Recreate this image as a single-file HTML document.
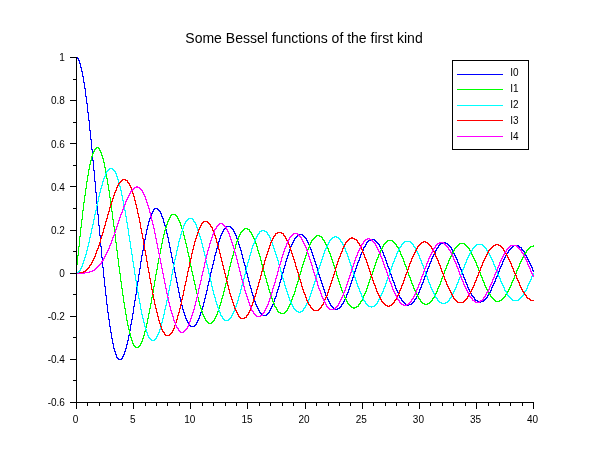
<!DOCTYPE html>
<html><head><meta charset="utf-8"><title>Some Bessel functions of the first kind</title>
<style>
html,body{margin:0;padding:0;background:#fff;}
body{width:610px;height:460px;overflow:hidden;}
svg{display:block;}
svg text{font-family:"Liberation Sans",Arial,sans-serif;fill:#000;}
.t{font-size:10px;}
.ttl{font-size:14px;font-variant-ligatures:none;}
.ax{stroke:#000;stroke-width:1;fill:none;shape-rendering:crispEdges;}
.c{fill:none;stroke-width:1;stroke-linejoin:round;shape-rendering:crispEdges;}
</style></head>
<body>
<svg width="610" height="460" viewBox="0 0 610 460">
<rect x="0" y="0" width="610" height="460" fill="#ffffff"/>
<path class="c" stroke="#0000ff" d="M76.5 57v1M77.5 57v2M78.5 58v3M79.5 60v4M80.5 63v5M81.5 67v5M82.5 71v6M83.5 76v7M84.5 82v7M85.5 88v9M86.5 96v8M87.5 103v10M88.5 112v9M89.5 120v11M90.5 130v10M91.5 139v11M92.5 149v12M93.5 160v11M94.5 170v12M95.5 181v12M96.5 192v12M97.5 203v12M98.5 214v12M99.5 225v11M100.5 235v12M101.5 246v12M102.5 257v11M103.5 267v11M104.5 277v10M105.5 286v10M106.5 295v10M107.5 304v9M108.5 312v8M109.5 319v8M110.5 326v7M111.5 332v7M112.5 338v6M113.5 343v6M114.5 348v4M115.5 351v4M116.5 354v4M117.5 357v2M118.5 358v2M119.5 359v1M120.5 359v1M121.5 358v2M122.5 356v3M123.5 354v3M124.5 351v4M125.5 348v4M126.5 344v5M127.5 340v5M128.5 335v6M129.5 330v6M130.5 324v7M131.5 319v6M132.5 313v7M133.5 306v8M134.5 300v7M135.5 294v7M136.5 287v8M137.5 281v7M138.5 274v8M139.5 268v7M140.5 261v8M141.5 255v7M142.5 250v6M143.5 244v7M144.5 239v6M145.5 234v6M146.5 229v6M147.5 225v5M148.5 221v5M149.5 218v4M150.5 215v4M151.5 213v3M152.5 211v3M153.5 209v3M154.5 208v2M155.5 208v1M156.5 208v1M157.5 208v2M158.5 209v2M159.5 210v2M160.5 211v3M161.5 213v4M162.5 216v3M163.5 218v5M164.5 222v4M165.5 225v5M166.5 229v5M167.5 233v5M168.5 237v6M169.5 242v6M170.5 247v6M171.5 252v6M172.5 257v6M173.5 262v6M174.5 267v6M175.5 272v6M176.5 277v6M177.5 282v6M178.5 287v6M179.5 292v6M180.5 297v5M181.5 301v5M182.5 305v5M183.5 309v4M184.5 312v4M185.5 315v4M186.5 318v3M187.5 320v3M188.5 322v3M189.5 324v2M190.5 325v2M191.5 326v1M192.5 326v1M193.5 326v1M194.5 325v2M195.5 324v2M196.5 322v3M197.5 320v3M198.5 318v3M199.5 315v4M200.5 312v4M201.5 309v4M202.5 306v4M203.5 302v5M204.5 298v5M205.5 294v5M206.5 290v5M207.5 285v6M208.5 281v5M209.5 277v5M210.5 272v6M211.5 268v5M212.5 264v5M213.5 260v5M214.5 255v6M215.5 252v4M216.5 248v5M217.5 244v5M218.5 241v4M219.5 238v4M220.5 235v4M221.5 233v3M222.5 231v3M223.5 229v3M224.5 228v2M225.5 227v2M226.5 226v2M227.5 226v1M228.5 226v1M229.5 226v1M230.5 226v2M231.5 227v2M232.5 228v2M233.5 229v3M234.5 231v3M235.5 233v3M236.5 235v4M237.5 238v4M238.5 241v4M239.5 244v4M240.5 247v4M241.5 250v5M242.5 254v5M243.5 258v5M244.5 262v4M245.5 265v5M246.5 269v5M247.5 273v5M248.5 277v5M249.5 281v5M250.5 285v4M251.5 288v5M252.5 292v4M253.5 295v4M254.5 298v4M255.5 301v4M256.5 304v3M257.5 306v3M258.5 308v3M259.5 310v3M260.5 312v2M261.5 313v2M262.5 314v2M263.5 315v1M264.5 315v1M265.5 315v1M266.5 314v2M267.5 313v2M268.5 312v2M269.5 310v3M270.5 308v3M271.5 306v3M272.5 304v3M273.5 301v4M274.5 298v4M275.5 296v3M276.5 292v5M277.5 289v4M278.5 286v4M279.5 282v5M280.5 279v4M281.5 275v5M282.5 272v4M283.5 268v5M284.5 265v4M285.5 261v5M286.5 258v4M287.5 255v4M288.5 252v4M289.5 249v4M290.5 246v4M291.5 244v3M292.5 242v3M293.5 240v3M294.5 238v3M295.5 237v2M296.5 236v2M297.5 235v2M298.5 234v2M299.5 234v1M300.5 234v1M301.5 234v1M302.5 234v2M303.5 235v2M304.5 236v2M305.5 237v2M306.5 238v3M307.5 240v3M308.5 242v3M309.5 244v4M310.5 247v3M311.5 249v4M312.5 252v4M313.5 255v4M314.5 258v4M315.5 261v4M316.5 264v4M317.5 267v4M318.5 270v5M319.5 274v4M320.5 277v4M321.5 280v4M322.5 283v4M323.5 286v4M324.5 289v4M325.5 292v4M326.5 295v3M327.5 297v3M328.5 299v3M329.5 301v3M330.5 303v3M331.5 305v2M332.5 306v2M333.5 307v2M334.5 308v1M335.5 308v2M336.5 309v1M337.5 308v2M338.5 308v1M339.5 307v2M340.5 306v2M341.5 304v3M342.5 303v2M343.5 301v3M344.5 299v3M345.5 297v3M346.5 294v4M347.5 292v3M348.5 289v4M349.5 286v4M350.5 283v4M351.5 280v4M352.5 277v4M353.5 274v4M354.5 271v4M355.5 268v4M356.5 265v4M357.5 262v4M358.5 260v3M359.5 257v4M360.5 254v4M361.5 252v3M362.5 250v3M363.5 247v4M364.5 246v2M365.5 244v3M366.5 242v3M367.5 241v2M368.5 240v2M369.5 240v1M370.5 239v2M371.5 239v1M372.5 239v1M373.5 239v1M374.5 239v2M375.5 240v2M376.5 241v2M377.5 242v2M378.5 243v2M379.5 244v3M380.5 246v3M381.5 248v3M382.5 250v3M383.5 252v4M384.5 255v3M385.5 257v4M386.5 260v4M387.5 263v4M388.5 266v3M389.5 268v4M390.5 271v4M391.5 274v4M392.5 277v4M393.5 280v3M394.5 282v4M395.5 285v4M396.5 288v3M397.5 290v3M398.5 292v4M399.5 295v3M400.5 297v2M401.5 298v3M402.5 300v2M403.5 301v2M404.5 302v2M405.5 303v2M406.5 304v1M407.5 304v2M408.5 304v2M409.5 304v1M410.5 304v1M411.5 303v2M412.5 302v2M413.5 301v2M414.5 299v3M415.5 298v2M416.5 296v3M417.5 294v3M418.5 292v3M419.5 289v4M420.5 287v3M421.5 284v4M422.5 282v3M423.5 279v4M424.5 276v4M425.5 274v3M426.5 271v4M427.5 268v4M428.5 266v3M429.5 263v4M430.5 261v3M431.5 258v4M432.5 256v3M433.5 254v3M434.5 252v3M435.5 250v3M436.5 248v3M437.5 247v2M438.5 245v3M439.5 244v2M440.5 243v2M441.5 243v1M442.5 242v2M443.5 242v1M444.5 242v1M445.5 242v2M446.5 243v1M447.5 243v2M448.5 244v2M449.5 245v2M450.5 246v2M451.5 247v3M452.5 249v3M453.5 251v3M454.5 253v3M455.5 255v3M456.5 257v3M457.5 259v4M458.5 262v3M459.5 264v4M460.5 267v3M461.5 269v4M462.5 272v3M463.5 274v4M464.5 277v3M465.5 279v4M466.5 282v3M467.5 284v4M468.5 287v3M469.5 289v3M470.5 291v3M471.5 293v3M472.5 295v2M473.5 296v2M474.5 297v3M475.5 299v2M476.5 300v1M477.5 300v2M478.5 301v1M479.5 301v2M480.5 301v2M481.5 301v1M482.5 301v1M483.5 300v2M484.5 299v2M485.5 298v2M486.5 297v2M487.5 295v3M488.5 293v3M489.5 292v2M490.5 290v3M491.5 287v4M492.5 285v3M493.5 283v3M494.5 281v3M495.5 278v4M496.5 276v3M497.5 273v4M498.5 271v3M499.5 268v4M500.5 266v3M501.5 264v3M502.5 261v4M503.5 259v3M504.5 257v3M505.5 255v3M506.5 253v3M507.5 252v2M508.5 250v3M509.5 249v2M510.5 248v2M511.5 247v2M512.5 246v2M513.5 245v2M514.5 245v1M515.5 245v1M516.5 245v1M517.5 245v1M518.5 245v2M519.5 246v2M520.5 247v1M521.5 247v3M522.5 249v2M523.5 250v2M524.5 251v3M525.5 253v3M526.5 255v3M527.5 257v3M528.5 259v3M529.5 261v3M530.5 263v3M531.5 265v3M532.5 267v4M533.5 270v2"/>
<path class="c" stroke="#00ff00" d="M76.5 264v10M77.5 255v10M78.5 246v10M79.5 236v11M80.5 227v10M81.5 219v9M82.5 210v10M83.5 202v9M84.5 195v8M85.5 188v8M86.5 181v8M87.5 175v7M88.5 169v7M89.5 164v6M90.5 160v5M91.5 156v5M92.5 153v4M93.5 151v3M94.5 149v3M95.5 148v2M96.5 147v2M97.5 147v1M98.5 147v2M99.5 148v3M100.5 150v3M101.5 152v4M102.5 155v4M103.5 158v5M104.5 162v6M105.5 167v6M106.5 172v7M107.5 178v7M108.5 184v7M109.5 190v8M110.5 197v8M111.5 204v8M112.5 211v9M113.5 219v8M114.5 226v9M115.5 234v9M116.5 242v9M117.5 250v9M118.5 258v9M119.5 266v8M120.5 273v9M121.5 281v8M122.5 288v8M123.5 295v8M124.5 302v7M125.5 308v7M126.5 314v7M127.5 320v6M128.5 325v5M129.5 329v5M130.5 333v5M131.5 337v4M132.5 340v4M133.5 343v3M134.5 345v2M135.5 346v2M136.5 347v1M137.5 347v1M138.5 346v2M139.5 345v2M140.5 343v3M141.5 341v3M142.5 338v4M143.5 335v4M144.5 331v5M145.5 327v5M146.5 323v5M147.5 318v6M148.5 313v6M149.5 308v6M150.5 303v6M151.5 297v7M152.5 292v6M153.5 286v7M154.5 280v7M155.5 274v7M156.5 269v6M157.5 263v7M158.5 258v6M159.5 253v6M160.5 248v6M161.5 243v6M162.5 238v6M163.5 234v5M164.5 230v5M165.5 227v4M166.5 224v4M167.5 221v4M168.5 219v3M169.5 217v3M170.5 215v3M171.5 214v2M172.5 214v1M173.5 214v1M174.5 214v1M175.5 214v2M176.5 215v2M177.5 216v3M178.5 218v3M179.5 220v3M180.5 222v4M181.5 225v4M182.5 228v4M183.5 231v5M184.5 235v5M185.5 239v5M186.5 243v5M187.5 247v6M188.5 252v5M189.5 256v6M190.5 261v6M191.5 266v6M192.5 271v5M193.5 275v6M194.5 280v5M195.5 284v6M196.5 289v5M197.5 293v5M198.5 297v5M199.5 301v5M200.5 305v4M201.5 308v4M202.5 311v4M203.5 314v3M204.5 316v3M205.5 318v3M206.5 320v2M207.5 321v2M208.5 322v2M209.5 323v1M210.5 323v1M211.5 322v2M212.5 321v2M213.5 320v2M214.5 318v3M215.5 316v3M216.5 314v3M217.5 311v4M218.5 308v4M219.5 305v4M220.5 302v4M221.5 298v5M222.5 295v4M223.5 291v5M224.5 287v5M225.5 283v5M226.5 279v5M227.5 275v5M228.5 270v6M229.5 266v5M230.5 262v5M231.5 258v5M232.5 255v4M233.5 251v5M234.5 248v4M235.5 244v5M236.5 241v4M237.5 239v3M238.5 236v4M239.5 234v3M240.5 232v3M241.5 231v2M242.5 230v2M243.5 229v2M244.5 228v2M245.5 228v1M246.5 228v1M247.5 228v2M248.5 229v1M249.5 229v3M250.5 231v2M251.5 232v3M252.5 234v3M253.5 236v3M254.5 238v4M255.5 241v3M256.5 243v4M257.5 246v5M258.5 250v4M259.5 253v4M260.5 256v5M261.5 260v5M262.5 264v4M263.5 267v5M264.5 271v5M265.5 275v4M266.5 278v5M267.5 282v4M268.5 285v5M269.5 289v4M270.5 292v4M271.5 295v4M272.5 298v4M273.5 301v3M274.5 303v4M275.5 306v2M276.5 307v3M277.5 309v3M278.5 311v2M279.5 312v1M280.5 312v2M281.5 313v1M282.5 313v1M283.5 313v1M284.5 312v2M285.5 311v2M286.5 310v2M287.5 308v3M288.5 306v3M289.5 304v3M290.5 302v3M291.5 299v4M292.5 296v4M293.5 294v3M294.5 291v4M295.5 287v5M296.5 284v4M297.5 281v4M298.5 277v5M299.5 274v4M300.5 271v4M301.5 267v5M302.5 264v4M303.5 261v4M304.5 258v4M305.5 255v4M306.5 252v4M307.5 249v4M308.5 247v3M309.5 244v4M310.5 242v3M311.5 240v3M312.5 239v2M313.5 238v2M314.5 237v2M315.5 236v2M316.5 235v2M317.5 235v1M318.5 235v1M319.5 235v2M320.5 236v1M321.5 236v2M322.5 237v3M323.5 239v2M324.5 240v3M325.5 242v3M326.5 244v3M327.5 246v3M328.5 248v4M329.5 251v3M330.5 253v4M331.5 256v4M332.5 259v4M333.5 262v4M334.5 265v4M335.5 268v4M336.5 271v5M337.5 275v4M338.5 278v4M339.5 281v4M340.5 284v4M341.5 287v4M342.5 290v3M343.5 292v4M344.5 295v3M345.5 297v3M346.5 299v3M347.5 301v3M348.5 303v2M349.5 304v2M350.5 305v2M351.5 306v2M352.5 307v1M353.5 307v2M354.5 307v2M355.5 307v1M356.5 306v2M357.5 306v1M358.5 304v3M359.5 303v2M360.5 301v3M361.5 300v2M362.5 298v3M363.5 295v4M364.5 293v3M365.5 291v3M366.5 288v4M367.5 285v4M368.5 282v4M369.5 279v4M370.5 276v4M371.5 274v3M372.5 271v4M373.5 268v4M374.5 265v4M375.5 262v4M376.5 259v4M377.5 257v3M378.5 254v4M379.5 252v3M380.5 250v3M381.5 248v3M382.5 246v3M383.5 244v3M384.5 243v2M385.5 242v2M386.5 241v2M387.5 240v2M388.5 240v1M389.5 240v1M390.5 240v1M391.5 240v1M392.5 240v2M393.5 241v2M394.5 242v2M395.5 243v2M396.5 244v3M397.5 246v2M398.5 247v3M399.5 249v3M400.5 251v4M401.5 254v3M402.5 256v3M403.5 258v4M404.5 261v4M405.5 264v3M406.5 266v4M407.5 269v4M408.5 272v4M409.5 275v3M410.5 277v4M411.5 280v4M412.5 283v3M413.5 285v4M414.5 288v3M415.5 290v3M416.5 292v3M417.5 294v3M418.5 296v3M419.5 298v2M420.5 299v3M421.5 301v2M422.5 302v2M423.5 303v1M424.5 303v2M425.5 304v1M426.5 304v1M427.5 303v2M428.5 303v1M429.5 302v2M430.5 301v2M431.5 300v2M432.5 298v3M433.5 297v2M434.5 295v3M435.5 293v3M436.5 291v3M437.5 288v4M438.5 286v3M439.5 284v3M440.5 281v4M441.5 278v4M442.5 276v3M443.5 273v4M444.5 270v4M445.5 268v3M446.5 265v4M447.5 263v3M448.5 260v4M449.5 258v3M450.5 256v3M451.5 254v3M452.5 252v3M453.5 250v3M454.5 248v3M455.5 247v2M456.5 246v2M457.5 245v2M458.5 244v2M459.5 243v2M460.5 243v1M461.5 243v1M462.5 243v1M463.5 243v1M464.5 243v2M465.5 244v2M466.5 245v2M467.5 246v2M468.5 247v2M469.5 248v3M470.5 250v3M471.5 252v3M472.5 254v3M473.5 256v3M474.5 258v3M475.5 260v3M476.5 262v4M477.5 265v3M478.5 267v4M479.5 270v3M480.5 272v4M481.5 275v3M482.5 277v4M483.5 280v3M484.5 282v4M485.5 285v3M486.5 287v3M487.5 289v3M488.5 291v3M489.5 293v2M490.5 294v3M491.5 296v2M492.5 297v2M493.5 298v2M494.5 299v2M495.5 300v2M496.5 301v1M497.5 301v1M498.5 301v1M499.5 300v2M500.5 300v1M501.5 299v2M502.5 298v2M503.5 297v2M504.5 296v2M505.5 294v3M506.5 293v2M507.5 291v3M508.5 289v3M509.5 287v3M510.5 285v3M511.5 282v4M512.5 280v3M513.5 278v3M514.5 275v4M515.5 273v3M516.5 270v4M517.5 268v3M518.5 266v3M519.5 263v4M520.5 261v3M521.5 259v3M522.5 257v3M523.5 255v3M524.5 253v3M525.5 252v2M526.5 250v3M527.5 249v2M528.5 248v2M529.5 247v2M530.5 246v2M531.5 246v1M532.5 246v1M533.5 245v2"/>
<path class="c" stroke="#00ffff" d="M76.5 272v2M77.5 272v1M78.5 271v2M79.5 270v2M80.5 268v3M81.5 266v3M82.5 263v4M83.5 260v4M84.5 257v4M85.5 254v4M86.5 250v5M87.5 246v5M88.5 242v5M89.5 237v6M90.5 233v5M91.5 228v6M92.5 224v5M93.5 219v6M94.5 214v6M95.5 210v5M96.5 205v6M97.5 201v5M98.5 196v6M99.5 192v5M100.5 188v5M101.5 185v4M102.5 181v5M103.5 178v4M104.5 176v3M105.5 173v4M106.5 171v3M107.5 170v2M108.5 169v2M109.5 168v2M110.5 168v1M111.5 168v1M112.5 168v2M113.5 169v2M114.5 170v2M115.5 171v3M116.5 173v4M117.5 176v4M118.5 179v4M119.5 182v5M120.5 186v5M121.5 190v6M122.5 195v6M123.5 200v6M124.5 205v6M125.5 210v7M126.5 216v7M127.5 222v7M128.5 228v8M129.5 235v7M130.5 241v8M131.5 248v7M132.5 254v8M133.5 261v7M134.5 267v8M135.5 274v7M136.5 280v7M137.5 286v7M138.5 292v7M139.5 298v6M140.5 303v7M141.5 309v6M142.5 314v5M143.5 318v5M144.5 322v5M145.5 326v4M146.5 329v4M147.5 332v4M148.5 335v3M149.5 337v2M150.5 338v2M151.5 339v2M152.5 340v1M153.5 340v1M154.5 339v2M155.5 338v2M156.5 336v3M157.5 334v3M158.5 332v3M159.5 329v4M160.5 325v5M161.5 322v4M162.5 318v5M163.5 314v5M164.5 309v6M165.5 305v5M166.5 300v6M167.5 295v6M168.5 290v6M169.5 285v6M170.5 280v6M171.5 274v7M172.5 269v6M173.5 264v6M174.5 259v6M175.5 255v5M176.5 250v6M177.5 246v5M178.5 241v6M179.5 238v4M180.5 234v5M181.5 231v4M182.5 228v4M183.5 225v4M184.5 223v3M185.5 221v3M186.5 220v2M187.5 219v2M188.5 218v2M189.5 218v1M190.5 218v1M191.5 218v1M192.5 218v2M193.5 219v3M194.5 221v2M195.5 222v3M196.5 224v4M197.5 227v4M198.5 230v4M199.5 233v4M200.5 236v4M201.5 239v5M202.5 243v5M203.5 247v5M204.5 251v5M205.5 255v6M206.5 260v5M207.5 264v5M208.5 268v6M209.5 273v5M210.5 277v5M211.5 281v6M212.5 286v5M213.5 290v5M214.5 294v4M215.5 297v5M216.5 301v4M217.5 304v4M218.5 307v4M219.5 310v3M220.5 312v4M221.5 315v2M222.5 316v3M223.5 318v2M224.5 319v2M225.5 320v1M226.5 320v1M227.5 320v1M228.5 319v2M229.5 318v2M230.5 317v2M231.5 315v3M232.5 313v3M233.5 311v3M234.5 309v3M235.5 306v4M236.5 303v4M237.5 300v4M238.5 296v5M239.5 293v4M240.5 289v5M241.5 285v5M242.5 282v4M243.5 278v5M244.5 274v5M245.5 270v5M246.5 266v5M247.5 262v5M248.5 259v4M249.5 255v5M250.5 252v4M251.5 248v5M252.5 245v4M253.5 243v3M254.5 240v4M255.5 238v3M256.5 236v3M257.5 234v3M258.5 233v2M259.5 231v3M260.5 231v1M261.5 230v2M262.5 230v1M263.5 230v1M264.5 230v2M265.5 231v1M266.5 231v2M267.5 232v3M268.5 234v2M269.5 235v3M270.5 237v4M271.5 240v3M272.5 242v4M273.5 245v4M274.5 248v4M275.5 251v4M276.5 254v4M277.5 257v4M278.5 260v5M279.5 264v4M280.5 267v5M281.5 271v4M282.5 274v5M283.5 278v4M284.5 281v5M285.5 285v4M286.5 288v4M287.5 291v4M288.5 294v4M289.5 297v4M290.5 300v3M291.5 302v3M292.5 304v3M293.5 306v3M294.5 308v2M295.5 309v2M296.5 310v2M297.5 311v1M298.5 311v2M299.5 312v1M300.5 311v2M301.5 311v1M302.5 310v2M303.5 308v3M304.5 307v2M305.5 305v3M306.5 303v3M307.5 301v3M308.5 299v3M309.5 296v4M310.5 293v4M311.5 290v4M312.5 287v4M313.5 284v4M314.5 281v4M315.5 278v4M316.5 274v5M317.5 271v4M318.5 268v4M319.5 265v4M320.5 262v4M321.5 259v4M322.5 256v4M323.5 253v4M324.5 250v4M325.5 248v3M326.5 246v3M327.5 244v3M328.5 242v3M329.5 240v3M330.5 239v2M331.5 238v2M332.5 237v2M333.5 237v1M334.5 236v2M335.5 236v1M336.5 236v2M337.5 237v1M338.5 237v2M339.5 238v2M340.5 239v3M341.5 241v2M342.5 242v3M343.5 244v3M344.5 246v3M345.5 248v4M346.5 251v3M347.5 253v4M348.5 256v4M349.5 259v4M350.5 262v4M351.5 265v4M352.5 268v4M353.5 271v4M354.5 274v4M355.5 277v4M356.5 280v4M357.5 283v4M358.5 286v3M359.5 288v4M360.5 291v3M361.5 293v4M362.5 296v3M363.5 298v3M364.5 300v2M365.5 301v3M366.5 303v2M367.5 304v2M368.5 305v2M369.5 306v1M370.5 306v1M371.5 306v2M372.5 306v1M373.5 306v1M374.5 305v2M375.5 304v2M376.5 303v2M377.5 301v3M378.5 299v3M379.5 298v2M380.5 295v4M381.5 293v3M382.5 291v3M383.5 288v4M384.5 286v3M385.5 283v4M386.5 280v4M387.5 277v4M388.5 275v3M389.5 272v4M390.5 269v4M391.5 266v4M392.5 263v4M393.5 261v3M394.5 258v4M395.5 256v3M396.5 253v4M397.5 251v3M398.5 249v3M399.5 247v3M400.5 246v2M401.5 244v3M402.5 243v2M403.5 242v2M404.5 241v2M405.5 241v1M406.5 241v1M407.5 241v1M408.5 241v1M409.5 241v1M410.5 241v2M411.5 242v2M412.5 243v2M413.5 244v3M414.5 246v2M415.5 247v3M416.5 249v3M417.5 251v3M418.5 253v3M419.5 255v4M420.5 258v3M421.5 260v4M422.5 263v3M423.5 265v4M424.5 268v4M425.5 271v4M426.5 274v3M427.5 276v4M428.5 279v4M429.5 282v3M430.5 284v4M431.5 287v3M432.5 289v3M433.5 291v3M434.5 293v3M435.5 295v3M436.5 297v2M437.5 298v3M438.5 300v2M439.5 301v2M440.5 302v1M441.5 302v2M442.5 303v1M443.5 303v1M444.5 303v1M445.5 302v2M446.5 302v1M447.5 301v2M448.5 300v2M449.5 298v3M450.5 297v2M451.5 295v3M452.5 293v3M453.5 291v3M454.5 289v3M455.5 287v3M456.5 284v4M457.5 282v3M458.5 279v4M459.5 277v3M460.5 274v4M461.5 272v3M462.5 269v4M463.5 267v3M464.5 264v4M465.5 262v3M466.5 259v4M467.5 257v3M468.5 255v3M469.5 253v3M470.5 251v3M471.5 250v2M472.5 248v3M473.5 247v2M474.5 246v2M475.5 245v2M476.5 244v2M477.5 244v1M478.5 244v1M479.5 244v1M480.5 244v1M481.5 244v1M482.5 244v2M483.5 245v2M484.5 246v2M485.5 247v2M486.5 248v3M487.5 250v2M488.5 251v3M489.5 253v3M490.5 255v3M491.5 257v3M492.5 259v3M493.5 261v4M494.5 264v3M495.5 266v4M496.5 269v3M497.5 271v4M498.5 274v3M499.5 276v3M500.5 278v4M501.5 281v3M502.5 283v3M503.5 285v3M504.5 287v4M505.5 290v2M506.5 291v3M507.5 293v3M508.5 295v2M509.5 296v2M510.5 297v2M511.5 298v2M512.5 299v2M513.5 300v1M514.5 300v1M515.5 300v1M516.5 300v1M517.5 300v1M518.5 299v2M519.5 298v2M520.5 297v2M521.5 296v2M522.5 295v2M523.5 293v3M524.5 291v3M525.5 290v2M526.5 288v3M527.5 285v4M528.5 283v3M529.5 281v3M530.5 279v3M531.5 276v4M532.5 274v3M533.5 273v2"/>
<path class="c" stroke="#ff0000" d="M76.5 273v1M77.5 273v1M78.5 273v1M79.5 272v2M80.5 272v1M81.5 272v1M82.5 272v1M83.5 271v2M84.5 271v1M85.5 270v2M86.5 269v2M87.5 268v2M88.5 267v2M89.5 265v3M90.5 264v2M91.5 262v3M92.5 260v3M93.5 258v3M94.5 256v3M95.5 253v4M96.5 250v4M97.5 248v3M98.5 245v4M99.5 242v4M100.5 238v5M101.5 235v4M102.5 232v4M103.5 228v5M104.5 225v4M105.5 221v5M106.5 218v4M107.5 214v5M108.5 211v4M109.5 207v5M110.5 204v4M111.5 201v4M112.5 198v4M113.5 195v4M114.5 192v4M115.5 190v3M116.5 187v4M117.5 185v3M118.5 183v3M119.5 182v2M120.5 181v2M121.5 180v2M122.5 179v2M123.5 179v1M124.5 179v1M125.5 179v2M126.5 180v1M127.5 180v3M128.5 182v2M129.5 183v3M130.5 185v3M131.5 187v4M132.5 190v4M133.5 193v4M134.5 196v5M135.5 200v5M136.5 204v5M137.5 208v6M138.5 213v5M139.5 217v6M140.5 222v7M141.5 228v6M142.5 233v6M143.5 238v7M144.5 244v7M145.5 250v6M146.5 255v7M147.5 261v7M148.5 267v6M149.5 272v7M150.5 278v6M151.5 283v7M152.5 289v6M153.5 294v6M154.5 299v6M155.5 304v5M156.5 308v5M157.5 312v5M158.5 316v5M159.5 320v4M160.5 323v4M161.5 326v4M162.5 329v3M163.5 331v2M164.5 332v3M165.5 334v2M166.5 335v1M167.5 335v1M168.5 335v1M169.5 334v2M170.5 333v2M171.5 332v2M172.5 330v3M173.5 328v3M174.5 325v4M175.5 322v4M176.5 319v4M177.5 315v5M178.5 312v4M179.5 308v5M180.5 304v5M181.5 299v6M182.5 295v5M183.5 290v6M184.5 285v6M185.5 281v5M186.5 276v6M187.5 271v6M188.5 267v5M189.5 262v6M190.5 258v5M191.5 253v6M192.5 249v5M193.5 245v5M194.5 241v5M195.5 238v4M196.5 235v4M197.5 232v4M198.5 229v4M199.5 227v3M200.5 225v3M201.5 223v3M202.5 222v2M203.5 221v2M204.5 221v1M205.5 221v1M206.5 221v1M207.5 221v2M208.5 222v2M209.5 223v2M210.5 224v3M211.5 226v2M212.5 227v4M213.5 230v3M214.5 232v4M215.5 235v4M216.5 238v5M217.5 242v4M218.5 245v5M219.5 249v5M220.5 253v5M221.5 257v5M222.5 261v5M223.5 265v5M224.5 269v5M225.5 273v5M226.5 277v5M227.5 281v5M228.5 285v5M229.5 289v5M230.5 293v4M231.5 296v4M232.5 299v4M233.5 302v4M234.5 305v4M235.5 308v3M236.5 310v3M237.5 312v3M238.5 314v3M239.5 316v2M240.5 317v2M241.5 318v1M242.5 318v1M243.5 318v1M244.5 317v2M245.5 317v1M246.5 315v3M247.5 314v2M248.5 312v3M249.5 310v3M250.5 308v3M251.5 305v4M252.5 302v4M253.5 299v4M254.5 296v4M255.5 293v4M256.5 289v5M257.5 286v4M258.5 282v5M259.5 279v4M260.5 275v5M261.5 271v5M262.5 268v4M263.5 264v5M264.5 260v5M265.5 257v4M266.5 254v4M267.5 251v4M268.5 248v4M269.5 245v4M270.5 242v4M271.5 240v3M272.5 238v3M273.5 236v3M274.5 235v2M275.5 233v3M276.5 233v1M277.5 232v2M278.5 232v1M279.5 232v1M280.5 232v1M281.5 232v2M282.5 233v1M283.5 233v3M284.5 235v2M285.5 236v3M286.5 238v3M287.5 240v3M288.5 242v3M289.5 244v4M290.5 247v4M291.5 250v4M292.5 253v4M293.5 256v4M294.5 259v4M295.5 262v5M296.5 266v4M297.5 269v4M298.5 272v5M299.5 276v4M300.5 279v4M301.5 282v5M302.5 286v4M303.5 289v4M304.5 292v3M305.5 294v4M306.5 297v4M307.5 300v3M308.5 302v3M309.5 304v2M310.5 305v3M311.5 307v2M312.5 308v2M313.5 309v2M314.5 310v1M315.5 310v1M316.5 310v1M317.5 310v1M318.5 309v2M319.5 308v2M320.5 307v2M321.5 305v3M322.5 304v2M323.5 302v3M324.5 299v4M325.5 297v3M326.5 295v3M327.5 292v4M328.5 289v4M329.5 286v4M330.5 283v4M331.5 280v4M332.5 277v4M333.5 274v4M334.5 271v4M335.5 267v5M336.5 264v4M337.5 261v4M338.5 258v4M339.5 256v3M340.5 253v4M341.5 251v3M342.5 248v4M343.5 246v3M344.5 244v3M345.5 242v3M346.5 241v2M347.5 240v2M348.5 239v2M349.5 238v2M350.5 238v1M351.5 237v2M352.5 237v2M353.5 238v1M354.5 238v2M355.5 239v1M356.5 239v2M357.5 240v3M358.5 242v2M359.5 243v3M360.5 245v3M361.5 247v3M362.5 249v4M363.5 252v3M364.5 254v4M365.5 257v3M366.5 259v4M367.5 262v4M368.5 265v4M369.5 268v4M370.5 271v4M371.5 274v4M372.5 277v4M373.5 280v4M374.5 283v3M375.5 285v4M376.5 288v4M377.5 291v3M378.5 293v3M379.5 295v3M380.5 297v3M381.5 299v3M382.5 301v2M383.5 302v2M384.5 303v2M385.5 304v2M386.5 305v1M387.5 305v2M388.5 306v1M389.5 305v2M390.5 305v1M391.5 304v2M392.5 303v2M393.5 302v2M394.5 300v3M395.5 299v2M396.5 297v3M397.5 295v3M398.5 293v3M399.5 290v4M400.5 288v3M401.5 285v4M402.5 283v3M403.5 280v4M404.5 277v4M405.5 274v4M406.5 272v3M407.5 269v4M408.5 266v4M409.5 263v4M410.5 261v3M411.5 258v4M412.5 256v3M413.5 254v3M414.5 252v3M415.5 250v3M416.5 248v3M417.5 246v3M418.5 245v2M419.5 244v2M420.5 243v2M421.5 242v2M422.5 242v1M423.5 241v2M424.5 241v1M425.5 241v2M426.5 242v1M427.5 242v2M428.5 243v2M429.5 244v2M430.5 245v2M431.5 246v3M432.5 248v2M433.5 249v3M434.5 251v3M435.5 253v4M436.5 256v3M437.5 258v3M438.5 260v4M439.5 263v3M440.5 265v4M441.5 268v4M442.5 271v3M443.5 273v4M444.5 276v4M445.5 279v3M446.5 281v4M447.5 284v3M448.5 286v3M449.5 288v3M450.5 290v3M451.5 292v3M452.5 294v3M453.5 296v3M454.5 298v2M455.5 299v2M456.5 300v2M457.5 301v2M458.5 302v1M459.5 302v1M460.5 302v1M461.5 302v1M462.5 302v1M463.5 301v2M464.5 300v2M465.5 299v2M466.5 298v2M467.5 296v3M468.5 295v2M469.5 293v3M470.5 291v3M471.5 289v3M472.5 287v3M473.5 285v3M474.5 282v4M475.5 280v3M476.5 277v4M477.5 275v3M478.5 272v4M479.5 270v3M480.5 267v4M481.5 265v3M482.5 262v4M483.5 260v3M484.5 258v3M485.5 256v3M486.5 254v3M487.5 252v3M488.5 250v3M489.5 249v2M490.5 248v2M491.5 247v2M492.5 246v2M493.5 245v2M494.5 245v1M495.5 244v2M496.5 244v1M497.5 244v1M498.5 244v2M499.5 245v1M500.5 245v2M501.5 246v2M502.5 247v2M503.5 248v3M504.5 250v2M505.5 251v3M506.5 253v3M507.5 255v3M508.5 257v3M509.5 259v3M510.5 261v3M511.5 263v4M512.5 266v3M513.5 268v4M514.5 271v3M515.5 273v3M516.5 275v4M517.5 278v3M518.5 280v3M519.5 282v4M520.5 285v3M521.5 287v3M522.5 289v3M523.5 291v2M524.5 292v3M525.5 294v2M526.5 295v3M527.5 297v2M528.5 298v1M529.5 298v2M530.5 299v2M531.5 300v1M532.5 300v1M533.5 300v1"/>
<path class="c" stroke="#ff00ff" d="M76.5 273v1M77.5 273v1M78.5 273v1M79.5 273v1M80.5 273v1M81.5 273v1M82.5 273v1M83.5 273v1M84.5 272v2M85.5 272v1M86.5 272v1M87.5 272v1M88.5 272v1M89.5 271v2M90.5 271v1M91.5 271v1M92.5 270v2M93.5 270v1M94.5 269v2M95.5 268v2M96.5 267v2M97.5 266v2M98.5 265v2M99.5 264v2M100.5 263v2M101.5 261v3M102.5 260v2M103.5 258v3M104.5 256v3M105.5 254v3M106.5 252v3M107.5 250v3M108.5 248v3M109.5 245v4M110.5 243v3M111.5 240v4M112.5 237v4M113.5 235v3M114.5 232v4M115.5 229v4M116.5 226v4M117.5 223v4M118.5 220v4M119.5 217v4M120.5 214v4M121.5 212v3M122.5 209v4M123.5 206v4M124.5 204v3M125.5 201v4M126.5 199v3M127.5 197v3M128.5 195v3M129.5 193v3M130.5 191v3M131.5 190v2M132.5 189v2M133.5 188v2M134.5 187v2M135.5 187v1M136.5 186v2M137.5 186v2M138.5 187v1M139.5 187v2M140.5 188v2M141.5 189v2M142.5 190v3M143.5 192v3M144.5 194v3M145.5 196v4M146.5 199v4M147.5 202v4M148.5 205v4M149.5 208v5M150.5 212v5M151.5 216v5M152.5 220v5M153.5 224v5M154.5 228v6M155.5 233v6M156.5 238v6M157.5 243v6M158.5 248v6M159.5 253v6M160.5 258v6M161.5 263v6M162.5 268v6M163.5 273v6M164.5 278v6M165.5 283v6M166.5 288v6M167.5 293v5M168.5 297v6M169.5 302v5M170.5 306v5M171.5 310v4M172.5 313v4M173.5 316v5M174.5 320v3M175.5 322v4M176.5 325v3M177.5 327v2M178.5 328v3M179.5 330v2M180.5 331v2M181.5 332v1M182.5 332v1M183.5 331v2M184.5 330v2M185.5 329v2M186.5 328v2M187.5 326v3M188.5 324v3M189.5 321v4M190.5 318v4M191.5 315v4M192.5 312v4M193.5 309v4M194.5 305v5M195.5 301v5M196.5 297v5M197.5 293v5M198.5 288v6M199.5 284v5M200.5 280v5M201.5 275v6M202.5 271v5M203.5 267v5M204.5 262v6M205.5 258v5M206.5 254v5M207.5 250v5M208.5 247v4M209.5 243v5M210.5 240v4M211.5 237v4M212.5 234v4M213.5 232v3M214.5 229v4M215.5 228v2M216.5 226v3M217.5 225v2M218.5 224v2M219.5 223v2M220.5 223v1M221.5 223v1M222.5 223v2M223.5 224v2M224.5 225v2M225.5 226v2M226.5 227v3M227.5 229v3M228.5 231v3M229.5 233v4M230.5 236v4M231.5 239v4M232.5 242v4M233.5 245v4M234.5 248v5M235.5 252v4M236.5 255v5M237.5 259v5M238.5 263v5M239.5 267v5M240.5 271v5M241.5 275v5M242.5 279v4M243.5 282v5M244.5 286v5M245.5 290v4M246.5 293v4M247.5 296v4M248.5 299v4M249.5 302v4M250.5 305v3M251.5 307v4M252.5 310v2M253.5 311v3M254.5 313v2M255.5 314v2M256.5 315v2M257.5 316v1M258.5 316v1M259.5 316v1M260.5 315v2M261.5 315v1M262.5 313v3M263.5 312v2M264.5 310v3M265.5 308v3M266.5 306v3M267.5 304v3M268.5 301v4M269.5 298v4M270.5 295v4M271.5 292v4M272.5 288v5M273.5 285v4M274.5 282v4M275.5 278v5M276.5 275v4M277.5 271v5M278.5 267v5M279.5 264v4M280.5 261v4M281.5 257v5M282.5 254v4M283.5 251v4M284.5 248v4M285.5 246v3M286.5 243v4M287.5 241v3M288.5 239v3M289.5 237v3M290.5 236v2M291.5 235v2M292.5 234v2M293.5 233v2M294.5 233v1M295.5 233v1M296.5 233v1M297.5 233v2M298.5 234v2M299.5 235v2M300.5 236v2M301.5 237v3M302.5 239v3M303.5 241v3M304.5 243v3M305.5 245v3M306.5 247v4M307.5 250v4M308.5 253v4M309.5 256v4M310.5 259v4M311.5 262v4M312.5 265v5M313.5 269v4M314.5 272v4M315.5 275v4M316.5 278v4M317.5 281v5M318.5 285v4M319.5 288v3M320.5 290v4M321.5 293v4M322.5 296v3M323.5 298v3M324.5 300v3M325.5 302v3M326.5 304v3M327.5 306v2M328.5 307v2M329.5 308v2M330.5 309v1M331.5 309v1M332.5 309v1M333.5 309v1M334.5 308v2M335.5 307v2M336.5 306v2M337.5 305v2M338.5 303v3M339.5 301v3M340.5 299v3M341.5 297v3M342.5 295v3M343.5 292v4M344.5 290v3M345.5 287v4M346.5 284v4M347.5 281v4M348.5 278v4M349.5 275v4M350.5 272v4M351.5 269v4M352.5 266v4M353.5 263v4M354.5 260v4M355.5 257v4M356.5 255v3M357.5 252v4M358.5 250v3M359.5 248v3M360.5 246v3M361.5 244v3M362.5 243v2M363.5 241v3M364.5 240v2M365.5 239v2M366.5 239v1M367.5 238v2M368.5 238v1M369.5 238v2M370.5 239v1M371.5 239v2M372.5 240v2M373.5 241v2M374.5 242v2M375.5 243v3M376.5 245v3M377.5 247v3M378.5 249v3M379.5 251v3M380.5 253v4M381.5 256v3M382.5 258v4M383.5 261v4M384.5 264v4M385.5 267v3M386.5 269v4M387.5 272v4M388.5 275v4M389.5 278v4M390.5 281v3M391.5 283v4M392.5 286v4M393.5 289v3M394.5 291v3M395.5 293v3M396.5 295v3M397.5 297v3M398.5 299v2M399.5 300v3M400.5 302v2M401.5 303v2M402.5 304v1M403.5 304v2M404.5 305v1M405.5 305v1M406.5 304v2M407.5 304v1M408.5 303v2M409.5 302v2M410.5 301v2M411.5 299v3M412.5 298v2M413.5 296v3M414.5 294v3M415.5 292v3M416.5 289v4M417.5 287v3M418.5 284v4M419.5 282v3M420.5 279v4M421.5 276v4M422.5 274v3M423.5 271v4M424.5 268v4M425.5 266v3M426.5 263v4M427.5 261v3M428.5 258v4M429.5 256v3M430.5 254v3M431.5 252v3M432.5 250v3M433.5 248v3M434.5 247v2M435.5 245v3M436.5 244v2M437.5 243v2M438.5 243v1M439.5 242v2M440.5 242v1M441.5 242v1M442.5 242v1M443.5 242v2M444.5 243v2M445.5 244v2M446.5 245v2M447.5 246v2M448.5 247v3M449.5 249v2M450.5 250v3M451.5 252v3M452.5 254v3M453.5 256v4M454.5 259v3M455.5 261v3M456.5 263v4M457.5 266v3M458.5 268v4M459.5 271v4M460.5 274v3M461.5 276v4M462.5 279v3M463.5 281v4M464.5 284v3M465.5 286v3M466.5 288v3M467.5 290v3M468.5 292v3M469.5 294v3M470.5 296v2M471.5 297v2M472.5 298v3M473.5 300v1M474.5 300v2M475.5 301v2M476.5 302v1M477.5 302v1M478.5 302v1M479.5 301v2M480.5 300v2M481.5 300v1M482.5 299v2M483.5 297v3M484.5 296v2M485.5 294v3M486.5 292v3M487.5 291v2M488.5 289v3M489.5 286v4M490.5 284v3M491.5 282v3M492.5 279v4M493.5 277v3M494.5 274v4M495.5 272v3M496.5 270v3M497.5 267v4M498.5 265v3M499.5 262v4M500.5 260v3M501.5 258v3M502.5 256v3M503.5 254v3M504.5 252v3M505.5 251v2M506.5 249v3M507.5 248v2M508.5 247v2M509.5 246v2M510.5 245v2M511.5 245v1M512.5 245v1M513.5 245v1M514.5 245v1M515.5 245v1M516.5 245v2M517.5 246v2M518.5 247v2M519.5 248v2M520.5 249v2M521.5 250v3M522.5 252v2M523.5 253v3M524.5 255v3M525.5 257v3M526.5 259v3M527.5 261v4M528.5 264v3M529.5 266v3M530.5 268v4M531.5 271v3M532.5 273v3M533.5 275v2"/>
<path class="ax" d="M76.5 57.0V403.0M76.0 402.5H534.0M70.0 57.5H76.5M73.0 79.5H76.5M70.0 100.5H76.5M73.0 122.5H76.5M70.0 143.5H76.5M73.0 165.5H76.5M70.0 186.5H76.5M73.0 208.5H76.5M70.0 230.5H76.5M73.0 251.5H76.5M70.0 273.5H76.5M73.0 294.5H76.5M70.0 316.5H76.5M73.0 337.5H76.5M70.0 359.5H76.5M73.0 380.5H76.5M70.0 402.5H76.5M76.5 402.5V409.0M87.5 402.5V406.0M99.5 402.5V406.0M110.5 402.5V406.0M122.5 402.5V406.0M133.5 402.5V409.0M145.5 402.5V406.0M156.5 402.5V406.0M167.5 402.5V406.0M179.5 402.5V406.0M190.5 402.5V409.0M202.5 402.5V406.0M213.5 402.5V406.0M225.5 402.5V406.0M236.5 402.5V406.0M247.5 402.5V409.0M259.5 402.5V406.0M270.5 402.5V406.0M282.5 402.5V406.0M293.5 402.5V406.0M305.5 402.5V409.0M316.5 402.5V406.0M328.5 402.5V406.0M339.5 402.5V406.0M350.5 402.5V406.0M362.5 402.5V409.0M373.5 402.5V406.0M385.5 402.5V406.0M396.5 402.5V406.0M408.5 402.5V406.0M419.5 402.5V409.0M430.5 402.5V406.0M442.5 402.5V406.0M453.5 402.5V406.0M465.5 402.5V406.0M476.5 402.5V409.0M488.5 402.5V406.0M499.5 402.5V406.0M510.5 402.5V406.0M522.5 402.5V406.0M533.5 402.5V409.0"/>
<text class="t" x="64.9" y="61.3" text-anchor="end">1</text>
<text class="t" x="64.9" y="104.4" text-anchor="end">0.8</text>
<text class="t" x="64.9" y="147.6" text-anchor="end">0.6</text>
<text class="t" x="64.9" y="190.7" text-anchor="end">0.4</text>
<text class="t" x="64.9" y="233.8" text-anchor="end">0.2</text>
<text class="t" x="64.9" y="276.9" text-anchor="end">0</text>
<text class="t" x="64.9" y="320.1" text-anchor="end">-0.2</text>
<text class="t" x="64.9" y="363.2" text-anchor="end">-0.4</text>
<text class="t" x="64.9" y="406.3" text-anchor="end">-0.6</text>
<text class="t" x="75.6" y="422.7" text-anchor="middle">0</text>
<text class="t" x="132.7" y="422.7" text-anchor="middle">5</text>
<text class="t" x="189.8" y="422.7" text-anchor="middle">10</text>
<text class="t" x="247.0" y="422.7" text-anchor="middle">15</text>
<text class="t" x="304.1" y="422.7" text-anchor="middle">20</text>
<text class="t" x="361.2" y="422.7" text-anchor="middle">25</text>
<text class="t" x="418.4" y="422.7" text-anchor="middle">30</text>
<text class="t" x="475.5" y="422.7" text-anchor="middle">35</text>
<text class="t" x="532.6" y="422.7" text-anchor="middle">40</text>
<text class="ttl" x="304" y="42.6" text-anchor="middle">Some Bessel functions of the first kind</text>
<rect class="ax" x="452.5" y="60.5" width="76" height="89" fill="#fff"/>
<line x1="457" y1="74.5" x2="503.2" y2="74.5" stroke="#0000ff" stroke-width="1" shape-rendering="crispEdges"/>
<text class="t" x="510.2" y="76.2">I0</text>
<line x1="457" y1="89.5" x2="503.2" y2="89.5" stroke="#00ff00" stroke-width="1" shape-rendering="crispEdges"/>
<text class="t" x="510.2" y="92.3">I1</text>
<line x1="457" y1="105.5" x2="503.2" y2="105.5" stroke="#00ffff" stroke-width="1" shape-rendering="crispEdges"/>
<text class="t" x="510.2" y="108.4">I2</text>
<line x1="457" y1="120.5" x2="503.2" y2="120.5" stroke="#ff0000" stroke-width="1" shape-rendering="crispEdges"/>
<text class="t" x="510.2" y="124.1">I3</text>
<line x1="457" y1="136.5" x2="503.2" y2="136.5" stroke="#ff00ff" stroke-width="1" shape-rendering="crispEdges"/>
<text class="t" x="510.2" y="139.9">I4</text>
</svg>
</body></html>
